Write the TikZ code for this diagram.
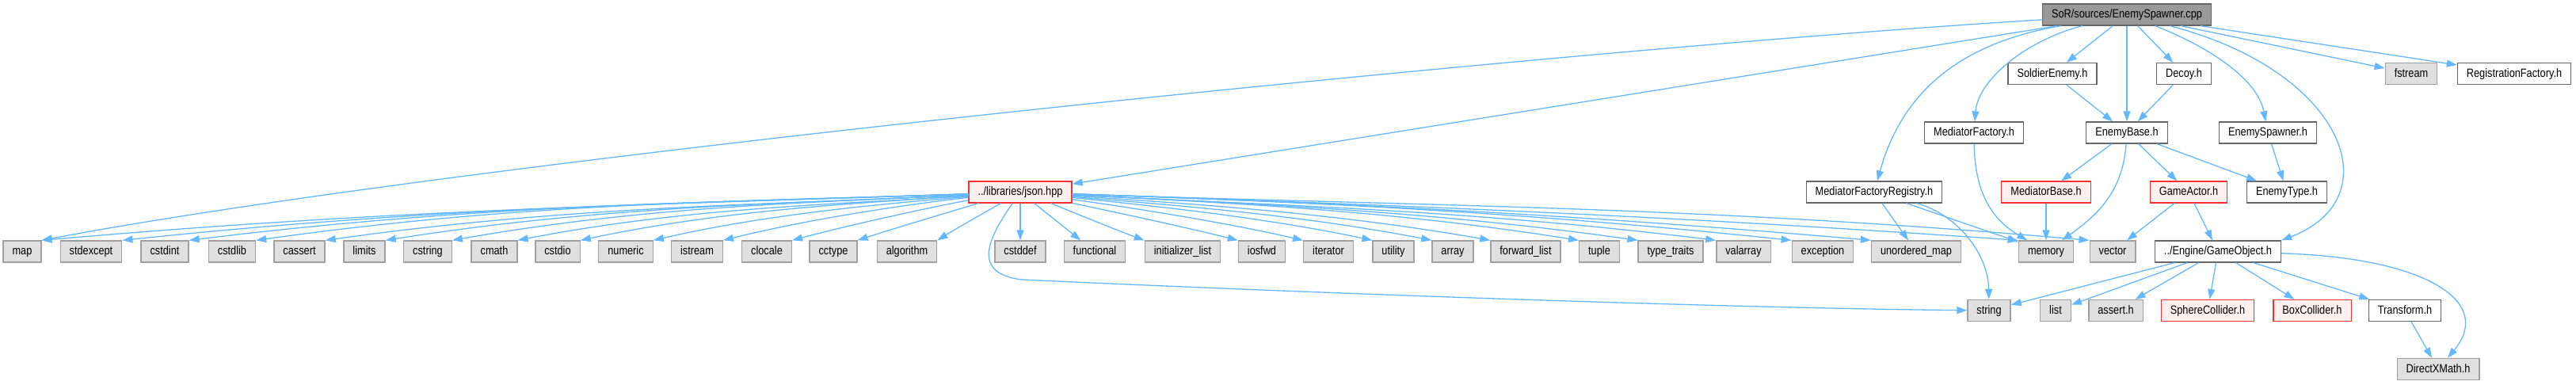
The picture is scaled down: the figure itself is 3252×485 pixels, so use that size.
\documentclass[tikz,border=0pt]{standalone}
\usepackage{fontspec}
\setmainfont{Liberation Sans}[FakeStretch=0.85]
\usetikzlibrary{arrows.meta}

\definecolor{edgeblue}{RGB}{99,184,255}
\definecolor{fileborder}{RGB}{102,102,102}
\definecolor{rootfill}{RGB}{153,153,153}
\definecolor{sysfill}{RGB}{224,224,224}
\definecolor{sysborder}{RGB}{160,160,160}
\definecolor{redfill}{RGB}{255,240,240}
\definecolor{redborder}{RGB}{240,50,50}

\begin{document}
\begin{tikzpicture}[x=1pt, y=1pt,
    file/.style={draw=fileborder, fill=white, line width=1.3pt, minimum height=27pt, inner xsep=11.5pt, inner ysep=0pt, text height=11pt, text depth=3pt, font=\fontsize{15}{17}\selectfont},
    rootfile/.style={file, fill=rootfill},
    sysfile/.style={file, draw=sysborder, fill=sysfill},
    redfile/.style={file, draw=redborder, fill=redfill, line width=1.1pt},
    edge/.style={draw=edgeblue, line width=1.3pt, -{Triangle[length=13pt, width=9pt]}}]

    \useasboundingbox (0,0) rectangle (3252,-485);

    % rows at y = -18.5, -93, -167.5, -242.5, -317.5, -392, -466
    \node[rootfile] (root) at (2685,-18.5) {SoR/sources/EnemySpawner.cpp};

    \node[file] (soldier) at (2591,-93) {SoldierEnemy.h};
    \node[file] (decoy) at (2757,-93) {Decoy.h};
    \node[sysfile] (fstream) at (3044,-93) {fstream};
    \node[file] (regfactory) at (3174,-93) {RegistrationFactory.h};

    \node[file] (medfactory) at (2492,-167.5) {MediatorFactory.h};
    \node[file] (enemybase) at (2685,-167.5) {EnemyBase.h};
    \node[file] (spawnerh) at (2863,-167.5) {EnemySpawner.h};

    \node[redfile] (json) at (1288,-242.5) {../libraries/json.hpp};
    \node[file] (medregistry) at (2366,-242.5) {MediatorFactoryRegistry.h};
    \node[redfile] (medbase) at (2583,-242.5) {MediatorBase.h};
    \node[redfile] (gameactor) at (2763,-242.5) {GameActor.h};
    \node[file] (enemytype) at (2887,-242.5) {EnemyType.h};

    \node[sysfile] (map) at (28,-317.5) {map};
    \node[sysfile] (stdexcept) at (115,-317.5) {stdexcept};
    \node[sysfile] (cstdint) at (208,-317.5) {cstdint};
    \node[sysfile] (cstdlib) at (293,-317.5) {cstdlib};
    \node[sysfile] (cassert) at (378,-317.5) {cassert};
    \node[sysfile] (limits) at (460,-317.5) {limits};
    \node[sysfile] (cstring) at (540,-317.5) {cstring};
    \node[sysfile] (cmath) at (624,-317.5) {cmath};
    \node[sysfile] (cstdio) at (704,-317.5) {cstdio};
    \node[sysfile] (numeric) at (790,-317.5) {numeric};
    \node[sysfile] (istream) at (880,-317.5) {istream};
    \node[sysfile] (clocale) at (968,-317.5) {clocale};
    \node[sysfile] (cctype) at (1052,-317.5) {cctype};
    \node[sysfile] (algorithm) at (1145,-317.5) {algorithm};
    \node[sysfile] (cstddef) at (1288,-317.5) {cstddef};
    \node[sysfile] (functional) at (1382,-317.5) {functional};
    \node[sysfile] (initlist) at (1493,-317.5) {initializer\_list};
    \node[sysfile] (iosfwd) at (1593,-317.5) {iosfwd};
    \node[sysfile] (iterator) at (1677,-317.5) {iterator};
    \node[sysfile] (utility) at (1759,-317.5) {utility};
    \node[sysfile] (array) at (1834,-317.5) {array};
    \node[sysfile] (fwdlist) at (1926,-317.5) {forward\_list};
    \node[sysfile] (tuple) at (2019,-317.5) {tuple};
    \node[sysfile] (typetraits) at (2109,-317.5) {type\_traits};
    \node[sysfile] (valarray) at (2201,-317.5) {valarray};
    \node[sysfile] (exception) at (2301,-317.5) {exception};
    \node[sysfile] (unorderedmap) at (2419,-317.5) {unordered\_map};
    \node[sysfile] (memory) at (2583,-317.5) {memory};
    \node[sysfile] (vector) at (2667,-317.5) {vector};
    \node[file] (gameobject) at (2800,-317.5) {../Engine/GameObject.h};

    \node[sysfile] (string) at (2511,-392) {string};
    \node[sysfile] (list) at (2595,-392) {list};
    \node[sysfile] (asserth) at (2671,-392) {assert.h};
    \node[redfile] (sphere) at (2787,-392) {SphereCollider.h};
    \node[redfile] (boxcol) at (2919,-392) {BoxCollider.h};
    \node[file] (transform) at (3036,-392) {Transform.h};

    \node[sysfile] (directx) at (3078,-466) {DirectXMath.h};

    % includes of EnemySpawner.cpp
    \draw[edge] (root) .. controls (2000,-60) and (600,-200) .. (map.north east);
    \draw[edge] (root) -- (json);
    \draw[edge] (root) .. controls (2470,-55) and (2400,-120) .. (medregistry);
    \draw[edge] (root) .. controls (2560,-50) and (2497,-100) .. (medfactory);
    \draw[edge] (root) -- (soldier);
    \draw[edge] (root) -- (enemybase);
    \draw[edge] (root) -- (decoy);
    \draw[edge] (root) .. controls (2790,-60) and (2850,-100) .. (spawnerh);
    \draw[edge] (root) .. controls (2960,-90) and (3020,-250) .. (gameobject.north east);
    \draw[edge] (root) -- (fstream);
    \draw[edge] (root) -- (regfactory);

    \draw[edge] (soldier) -- (enemybase);
    \draw[edge] (decoy) -- (enemybase);
    \draw[edge] (medfactory) .. controls (2493,-250) and (2520,-280) .. (memory);
    \draw[edge] (enemybase) -- (medbase);
    \draw[edge] (enemybase) -- (gameactor);
    \draw[edge] (enemybase) -- (enemytype);
    \draw[edge] (enemybase) .. controls (2680,-240) and (2650,-270) .. (memory);
    \draw[edge] (spawnerh) -- (enemytype);
    \draw[edge] (medregistry) -- (unorderedmap);
    \draw[edge] (medregistry) -- (memory);
    \draw[edge] (medregistry) .. controls (2470,-270) and (2510,-320) .. (string);
    \draw[edge] (medbase) -- (memory);
    \draw[edge] (gameactor) -- (vector);
    \draw[edge] (gameactor) -- (gameobject);

    % json.hpp fan: target / out angle / in angle / control length
    \foreach \tgt/\aout/\ain/\len in {map/182/5/457, stdexcept/182/6/417, cstdint/182/7/384, cstdlib/182/8/351, cassert/183/8/317, limits/183/9/287, cstring/183/10/255, cmath/184/11/222, cstdio/184/12/191, numeric/185/13/156, istream/186/14/121, clocale/189/15/87, cctype/195/18/55, algorithm/210/32/30}
        \draw[edge] (json) .. controls +(\aout:\len) and +(\ain:\len) .. (\tgt.north east);
    \draw[edge] (json) -- (cstddef);
    \draw[edge] (json) -- (functional);
    \foreach \tgt/\aout/\ain/\len in {initlist/-20/160/40, iosfwd/-12/166/83, iterator/-8/167/114, utility/-6/168/148, array/-5/169/178, fwdlist/-4/170/207, tuple/-3/171/250, typetraits/-3/172/279, valarray/-3/173/320, exception/-2/174/355, unorderedmap/-2/175/394, memory/-2/176/466, vector/-2/175/502}
        \draw[edge] (json) .. controls +(\aout:\len) and +(\ain:\len) .. (\tgt.north west);
    \draw[edge] (json) .. controls (1248,-300) and (1225,-345) .. (1290,-353) .. controls (1700,-372) and (2200,-389) .. (string);

    % GameObject.h
    \draw[edge] (gameobject) -- (string);
    \draw[edge] (gameobject) -- (list);
    \draw[edge] (gameobject) -- (asserth);
    \draw[edge] (gameobject) -- (sphere);
    \draw[edge] (gameobject) -- (boxcol);
    \draw[edge] (gameobject) -- (transform);
    \draw[edge] (gameobject) .. controls (3060,-325) and (3150,-380) .. (directx);
    \draw[edge] (transform) -- (directx);
\end{tikzpicture}
\end{document}
